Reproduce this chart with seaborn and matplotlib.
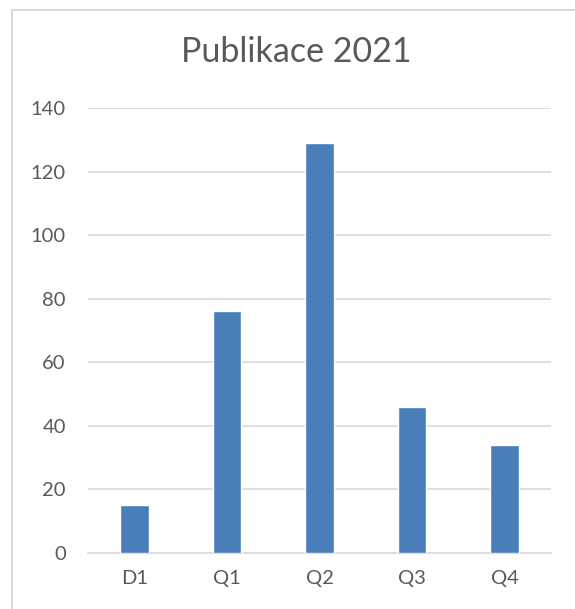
import matplotlib
matplotlib.use('Agg')
import matplotlib.pyplot as plt
import matplotlib.patches as patches
import seaborn as sns
import pandas as pd

# data
categories = ['D1', 'Q1', 'Q2', 'Q3', 'Q4']
counts = [15, 76, 129, 46, 34]
yticks = [0, 20, 40, 60, 80, 100, 120, 140]

df = pd.DataFrame({'kategorie': categories, 'pocet': counts})

sns.set_style('white')
plt.rcParams['font.family'] = ['Lato', 'DejaVu Sans']

fig = plt.figure(figsize=(5.75, 6.09), dpi=100)
ax = fig.add_axes([88 / 575, 1 - 553 / 609, (551 - 88) / 575, (553 - 108) / 609])

sns.barplot(data=df, x='kategorie', y='pocet', color='#4a7ebb', width=0.31,
            saturation=1, ax=ax, zorder=3)

ax.set_ylim(0, 140)
ax.set_xlim(-0.5, 4.5)
ax.set_yticks(yticks)
ax.yaxis.grid(True, color='#d9d9d9', linewidth=1.2, zorder=0)
ax.set_axisbelow(True)
for s in ['top', 'right', 'left']:
    ax.spines[s].set_visible(False)
ax.spines['bottom'].set_color('#d9d9d9')
ax.spines['bottom'].set_linewidth(1.2)
ax.tick_params(axis='both', length=0, labelsize=14.5, colors='#595959')
ax.tick_params(axis='x', pad=12)
ax.tick_params(axis='y', pad=16)
ax.set_xlabel('')
ax.set_ylabel('')

fig.text(296 / 575, 1 - 52 / 609, 'Publikace 2021', ha='center', va='center',
         fontsize=24.5, color='#595959')

# chart border (cropped at right and bottom)
border = patches.Rectangle((12 / 575, -0.05), 1.2, 1 - 10 / 609 + 0.05,
                           transform=fig.transFigure, fill=False,
                           edgecolor='#d9d9d9', linewidth=1.5)
fig.patches.append(border)

fig.savefig('out.png', dpi=100)
